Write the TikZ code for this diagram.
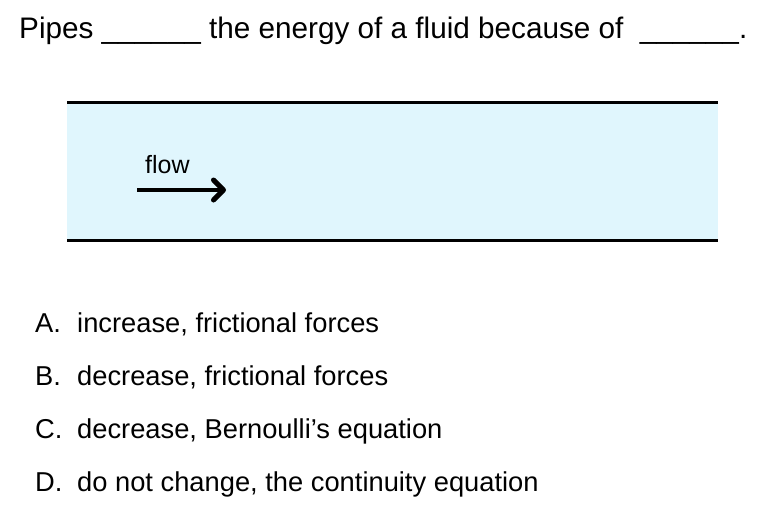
\documentclass[tikz,border=0pt]{standalone}
\usepackage{fontspec}
\setmainfont{Liberation Sans}
\usetikzlibrary{arrows.meta}
\definecolor{pipefill}{HTML}{E0F6FD}
\tikzset{
  wall/.style={line width=3pt, black},
  txt/.style={inner sep=0pt, anchor=base west},
  qtext/.style={txt, font=\fontsize{29.7}{34}\selectfont},
  opttext/.style={txt, font=\fontsize{27.3}{32}\selectfont},
  flowtext/.style={txt, font=\fontsize{25}{29}\selectfont},
  flowarrow/.style={line width=4.5pt, -{Straight Barb[length=10pt,width=20pt,line width=5pt,line cap=round,line join=round]}}
}
\begin{document}
\begin{tikzpicture}[x=1pt,y=-1pt]
\useasboundingbox (0,0) rectangle (768,515);
\fill[white] (0,0) rectangle (768,515);
% pipe
\fill[pipefill] (67,102) rectangle (718,240);
\coordinate (tl) at (67,102);
\coordinate (tr) at (718,102);
\coordinate (bl) at (67,240);
\coordinate (br) at (718,240);
\draw[wall] (tl) -- (tr);
\draw[wall] (bl) -- (br);
% flow arrow
\coordinate (fa) at (137,190);
\coordinate (fb) at (226,190);
\draw[flowarrow] (fa) -- (fb);
\node[flowtext] (flow) at (145,173) {flow};
% question
\node[qtext] (q) at (19,38) {Pipes \_\_\_\_\_\_ the energy of a fluid because of \ \_\_\_\_\_\_.};
% options
\node[opttext] (la) at (35,332) {A.};
\node[opttext] (ta) at (77,332) {increase, frictional forces};
\node[opttext] (lb) at (35,385) {B.};
\node[opttext] (tb) at (77,385) {decrease, frictional forces};
\node[opttext] (lc) at (35,438) {C.};
\node[opttext] (tc) at (77,438) {decrease, Bernoulli’s equation};
\node[opttext] (ld) at (35,491) {D.};
\node[opttext] (td) at (77,491) {do not change, the continuity equation};
\end{tikzpicture}
\end{document}
